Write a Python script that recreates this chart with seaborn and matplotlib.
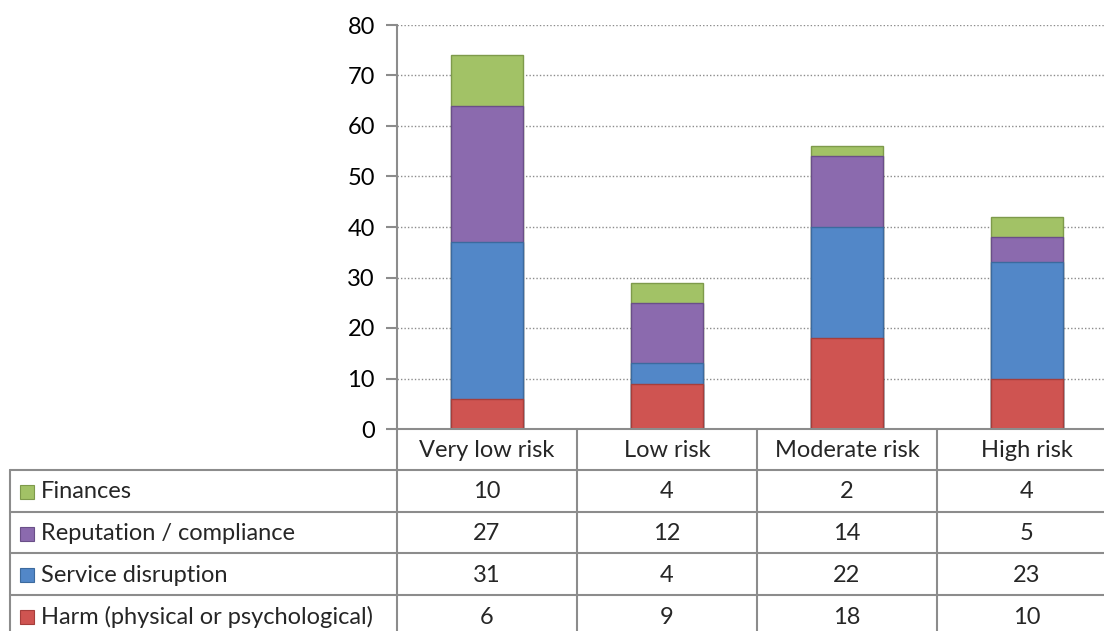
import numpy as np
import pandas as pd
import seaborn as sns
import matplotlib.pyplot as plt
from matplotlib.patches import Rectangle

categories = ["Very low risk", "Low risk", "Moderate risk", "High risk"]
series = ["Harm (physical or psychological)", "Service disruption",
          "Reputation / compliance", "Finances"]
harm = [6, 9, 18, 10]
service = [31, 4, 22, 23]
reputation = [27, 12, 14, 5]
finances = [10, 4, 2, 4]
colors = ["#CF5451", "#5287C8", "#8B6AAE", "#A2C266"]
edges = ["#A53E3B", "#3C6A9E", "#6A4F88", "#7E9A4B"]

sns.set_theme(style="white")
plt.rcParams['font.family'] = ['Lato', 'DejaVu Sans']
FS = 17

W, H = 1104, 631
fig = plt.figure(figsize=(W / 100, H / 100), dpi=100)
x0, y_top, y_bot, colw = 397, 25, 429, 180
ax = fig.add_axes([x0 / W, 1 - y_bot / H, 4 * colw / W, (y_bot - y_top) / H])

values = [harm, service, reputation, finances]
df = pd.DataFrame({"cat": categories})
cum = np.zeros(4)
cums = []
for v in values:
    cum = cum + np.array(v)
    cums.append(cum.copy())

# draw from tallest cumulative layer down so lower segments overlay
for i in reversed(range(4)):
    df["val"] = cums[i]
    sns.barplot(data=df, x="cat", y="val", color=colors[i], width=0.4,
                saturation=1, edgecolor=edges[i], linewidth=1, ax=ax, zorder=3)

ax.set_ylim(0, 80)
ax.set_xlim(-0.5, 3.5)
ax.set_yticks(range(0, 81, 10))
ax.yaxis.grid(True, linestyle=(0, (1, 1.5)), color="#8c8c8c", linewidth=1)
ax.set_axisbelow(True)
for s in ["top", "right", "bottom"]:
    ax.spines[s].set_visible(False)
ax.spines["left"].set_color("#8c8c8c")
ax.spines["left"].set_linewidth(1.5)
ax.tick_params(axis="y", left=True, length=8, width=1.5, color="#8c8c8c",
               labelsize=FS, pad=8, labelcolor="black")
ax.set_xticks([])
ax.set_xlabel("")
ax.set_ylabel("")

# data table below the chart
tab = fig.add_axes([0, 0, 1, 1])
tab.set_xlim(0, W)
tab.set_ylim(H, 0)
tab.axis("off")
tab.patch.set_alpha(0)
line = dict(color="#8c8c8c", linewidth=1.5)
rows_y = [470, 512, 553, 595, 637]
right = x0 + 4 * colw
tab.plot([x0, right], [y_bot, y_bot], **line)
for y in rows_y:
    tab.plot([10, right], [y, y], **line)
tab.plot([10, 10], [rows_y[0], rows_y[-1]], **line)
for j in range(5):
    tab.plot([x0 + j * colw] * 2, [y_bot, rows_y[-1]], **line)
for j, c in enumerate(categories):
    tab.text(x0 + (j + 0.5) * colw, (y_bot + rows_y[0]) / 2 + 1, c,
             ha="center", va="center", fontsize=FS)
order = [3, 2, 1, 0]
for r, si in enumerate(order):
    yc = (rows_y[r] + rows_y[r + 1]) / 2 + 1
    tab.add_patch(Rectangle((20, yc - 7), 14, 14, facecolor=colors[si],
                            edgecolor=edges[si], linewidth=0.8))
    tab.text(41, yc, series[si], ha="left", va="center", fontsize=FS)
    for j in range(4):
        tab.text(x0 + (j + 0.5) * colw, yc, str(values[si][j]),
                 ha="center", va="center", fontsize=FS)

fig.savefig("out.png", dpi=100)
